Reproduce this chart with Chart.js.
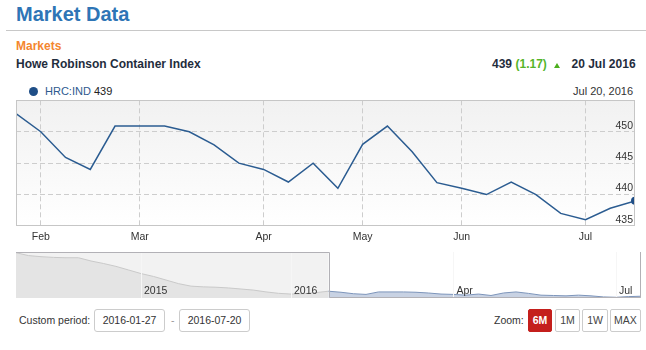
<!DOCTYPE html>
<html>
<head>
<meta charset="utf-8">
<script src="https://cdn.jsdelivr.net/npm/chart.js@4.4.0/dist/chart.umd.min.js"></script>
<style>
body{margin:0;width:646px;height:350px;background:#fff;font-family:"Liberation Sans",Arial,sans-serif;position:relative;overflow:hidden;color:#333}
.abs{position:absolute;white-space:nowrap}
#title{left:16px;top:4px;font-size:20px;line-height:20px;font-weight:bold;color:#2e75b6}
#rule{left:6px;top:30px;width:640px;height:1px;background:#c8c8c8}
#markets{left:16px;top:40px;font-size:12px;line-height:13px;font-weight:bold;color:#f4862f}
#name{left:16px;top:58px;font-size:12px;line-height:13px;font-weight:bold;color:#1f2d3d}
.hdr{top:58px;font-size:12px;line-height:13px;font-weight:bold;color:#1f2d3d}
#chg{color:#55b52a}
#tri{left:554px;top:63px;width:0;height:0;border-left:3.5px solid transparent;border-right:3.5px solid transparent;border-bottom:5px solid #4caf1e}
#dot{left:29px;top:87px;width:9px;height:9px;border-radius:50%;background:#1f4e87}
.leg{top:86px;font-size:11px;line-height:11px}
#main{left:0;top:96px}
#nav{left:0;top:250px}
.lbl{font-size:10.5px;line-height:23px;top:309px}
.box{top:309px;height:21px;border:1px solid #ccc;border-radius:3px;font-size:10.5px;line-height:21px;text-align:center;background:#fff}
.btn{top:309px;height:21px;border:1px solid #ccc;border-radius:2px;font-size:10.5px;line-height:21px;text-align:center;background:#fff;color:#444}
.btn.on{background:#c41f1c;border-color:#c41f1c;color:#fff;font-weight:bold}
</style>
</head>
<body>
<div class="abs" id="title">Market Data</div>
<div class="abs" id="rule"></div>
<div class="abs" id="markets">Markets</div>
<div class="abs" id="name">Howe Robinson Container Index</div>
<div class="abs hdr" style="left:492px">439</div>
<div class="abs hdr" id="chg" style="left:515.5px">(1.17)</div>
<div class="abs" id="tri"></div>
<div class="abs hdr" style="left:571.5px">20 Jul 2016</div>
<div class="abs" id="dot"></div>
<div class="abs leg" style="left:45px;color:#2e5a8f">HRC:IND <span style="color:#222">439</span></div>
<div class="abs leg" style="right:13px;color:#333">Jul 20, 2016</div>
<canvas class="abs" id="main" width="646" height="150"></canvas>
<canvas class="abs" id="nav" width="646" height="50"></canvas>
<div class="abs lbl" style="left:19px">Custom period:</div>
<div class="abs box" style="left:94px;width:69px">2016-01-27</div>
<div class="abs lbl" style="left:171px;color:#999">-</div>
<div class="abs box" style="left:179px;width:69px">2016-07-20</div>
<div class="abs lbl" style="left:494px">Zoom:</div>
<div class="abs btn on" style="left:528px;width:22px">6M</div>
<div class="abs btn" style="left:555px;width:23px">1M</div>
<div class="abs btn" style="left:582px;width:24px">1W</div>
<div class="abs btn" style="left:610px;width:29px">MAX</div>
<script>
// weekly index, 6 months
var weekDates = ['2016-01-27','2016-02-03','2016-02-10','2016-02-17','2016-02-24',
  '2016-03-02','2016-03-09','2016-03-16','2016-03-23','2016-03-30',
  '2016-04-06','2016-04-13','2016-04-20','2016-04-27',
  '2016-05-04','2016-05-11','2016-05-18','2016-05-25',
  '2016-06-01','2016-06-08','2016-06-15','2016-06-22','2016-06-29',
  '2016-07-06','2016-07-13','2016-07-20'];
var indexValues = [452.9, 450, 445.9, 444, 450.9, 450.9, 450.9, 450, 447.9, 445,
  444, 442, 445, 441, 448, 450.9, 446.8, 441.9, 441, 440,
  442, 440, 437, 436, 437.83, 439];
var monthNames = ['Jan','Feb','Mar','Apr','May','Jun','Jul','Aug','Sep','Oct','Nov','Dec'];
var yMin = 435, yMax = 455, yStep = 5;

// navigator history before the selected range
var histDates = ['2014-03','2014-04','2014-05','2014-06','2014-07','2014-08','2014-09','2014-10','2014-11','2014-12',
  '2015-01','2015-02','2015-03','2015-04','2015-05','2015-06','2015-07','2015-08','2015-09','2015-10','2015-11','2015-12',
  '2016-01-06','2016-01-13','2016-01-20'];
var histValues = [560, 552, 549, 547, 546, 546, 537, 530, 522, 512,
  502, 494, 484, 474, 467, 465, 464, 462, 459, 456, 451, 447,
  445, 446, 449];
var navTickAt = ['2015-01','2016-01-06','2016-04-06','2016-07-06'];
var navTickText = ['2015','2016','Apr','Jul'];

var family = '"Liberation Sans", Arial, sans-serif';

function monthLabel(i) {
  if (i == 0) return '';
  var m = parseInt(weekDates[i].substr(5,2),10);
  var p = parseInt(weekDates[i-1].substr(5,2),10);
  return m != p ? monthNames[m-1] : '';
}

var frame = {
  id: 'frame',
  beforeDraw: function(chart) {
    var a = chart.chartArea, c = chart.ctx;
    var g = c.createLinearGradient(0, a.top, 0, a.bottom);
    g.addColorStop(0, '#f1f1f1');
    g.addColorStop(1, '#ffffff');
    c.save();
    c.fillStyle = g;
    c.fillRect(a.left, a.top, a.right - a.left, a.bottom - a.top);
    c.restore();
  },
  afterDraw: function(chart) {
    var a = chart.chartArea, c = chart.ctx;
    c.save();
    c.strokeStyle = '#c6c6c6';
    c.lineWidth = 1;
    c.strokeRect(Math.round(a.left) + 0.5, Math.round(a.top) + 0.5, Math.round(a.right - a.left) - 1, Math.round(a.bottom - a.top) - 1);
    c.restore();
  }
};

new Chart(document.getElementById('main').getContext('2d'), {
  type: 'line',
  data: {
    labels: weekDates,
    datasets: [{
      data: indexValues,
      borderColor: '#2b5c91',
      borderWidth: 1.5,
      tension: 0,
      fill: false,
      clip: 0,
      pointRadius: function(c) { return c.dataIndex == indexValues.length - 1 ? 4 : 0; },
      pointBackgroundColor: '#1f4e87',
      pointBorderWidth: 0
    }]
  },
  options: {
    responsive: false,
    animation: false,
    layout: { padding: { top: 4, left: 16, right: 11, bottom: 0 } },
    plugins: { legend: { display: false }, tooltip: { enabled: false } },
    scales: {
      x: {
        grid: { color: function(c) { return monthLabel(c.index) ? '#cdcdcd' : 'transparent'; }, drawTicks: false },
        border: { display: false, dash: [5, 3] },
        ticks: { autoSkip: false, maxRotation: 0, padding: 5, color: '#333', font: { size: 10.5, family: family },
          callback: function(v, i) { return monthLabel(i); } },
        afterFit: function(s) { s.height = 20; }
      },
      y: {
        position: 'right',
        min: yMin, max: yMax,
        grid: { color: function(c) { var v = c.tick.value; return (v > yMin && v < yMax) ? '#cdcdcd' : 'transparent'; }, drawTicks: false },
        border: { display: false, dash: [5, 3] },
        ticks: { stepSize: yStep, mirror: true, padding: -2, labelOffset: -6, color: '#333', font: { size: 10.5, family: family },
          callback: function(v) { return v == yMax ? '' : v; } },
        afterFit: function(s) { s.width = 0; }
      }
    }
  },
  plugins: [frame]
});

// navigator
var navDates = histDates.concat(weekDates);
var navValues = histValues.concat(indexValues);
var selStart = histDates.length;

function navLabel(i) {
  var k = navTickAt.indexOf(navDates[i]);
  return k >= 0 ? navTickText[k] : '';
}

var navFrame = {
  id: 'navFrame',
  beforeDraw: function(chart) {
    var a = chart.chartArea, c = chart.ctx;
    var x0 = chart.scales.x.getPixelForValue(selStart);
    c.save();
    c.fillStyle = '#f2f2f2';
    c.fillRect(a.left, a.top, x0 - a.left, a.bottom - a.top);
    c.restore();
  },
  afterDraw: function(chart) {
    var a = chart.chartArea, c = chart.ctx;
    var x0 = Math.round(chart.scales.x.getPixelForValue(selStart)) + 0.5;
    c.save();
    c.strokeStyle = '#b2b1b6';
    c.lineWidth = 1;
    c.beginPath();
    c.moveTo(a.left, a.top + 0.5);
    c.lineTo(x0, a.top + 0.5);
    c.lineTo(x0, a.bottom - 0.5);
    c.lineTo(a.right - 0.5, a.bottom - 0.5);
    c.lineTo(a.right - 0.5, a.top);
    c.stroke();
    c.restore();
  }
};

new Chart(document.getElementById('nav').getContext('2d'), {
  type: 'line',
  data: {
    labels: navDates,
    datasets: [{
      data: navValues,
      borderWidth: 1,
      tension: 0,
      pointRadius: 0,
      fill: 'start',
      borderColor: '#7d95bb',
      backgroundColor: '#c8d2e3',
      segment: {
        borderColor: function(c) { return c.p0DataIndex < selStart ? '#c9c9c9' : '#7d95bb'; },
        backgroundColor: function(c) { return c.p0DataIndex < selStart ? '#e4e4e4' : '#c8d2e3'; }
      }
    }]
  },
  options: {
    responsive: false,
    animation: false,
    layout: { padding: { top: 2, left: 16, right: 5, bottom: 0 } },
    plugins: { legend: { display: false }, tooltip: { enabled: false } },
    scales: {
      x: {
        grid: { z: 1, color: function(c) { return navLabel(c.index) ? '#f6f6f6' : 'transparent'; }, drawTicks: false },
        border: { display: false },
        ticks: { z: 1, autoSkip: false, maxRotation: 0, mirror: true, align: 'start', labelOffset: 3, padding: 1,
          color: '#333', font: { size: 10.5, family: family },
          callback: function(v, i) { return navLabel(i); } },
        afterFit: function(s) { s.height = 2; }
      },
      y: { display: false, min: 434, max: 562 }
    }
  },
  plugins: [navFrame]
});
</script>
</body>
</html>
